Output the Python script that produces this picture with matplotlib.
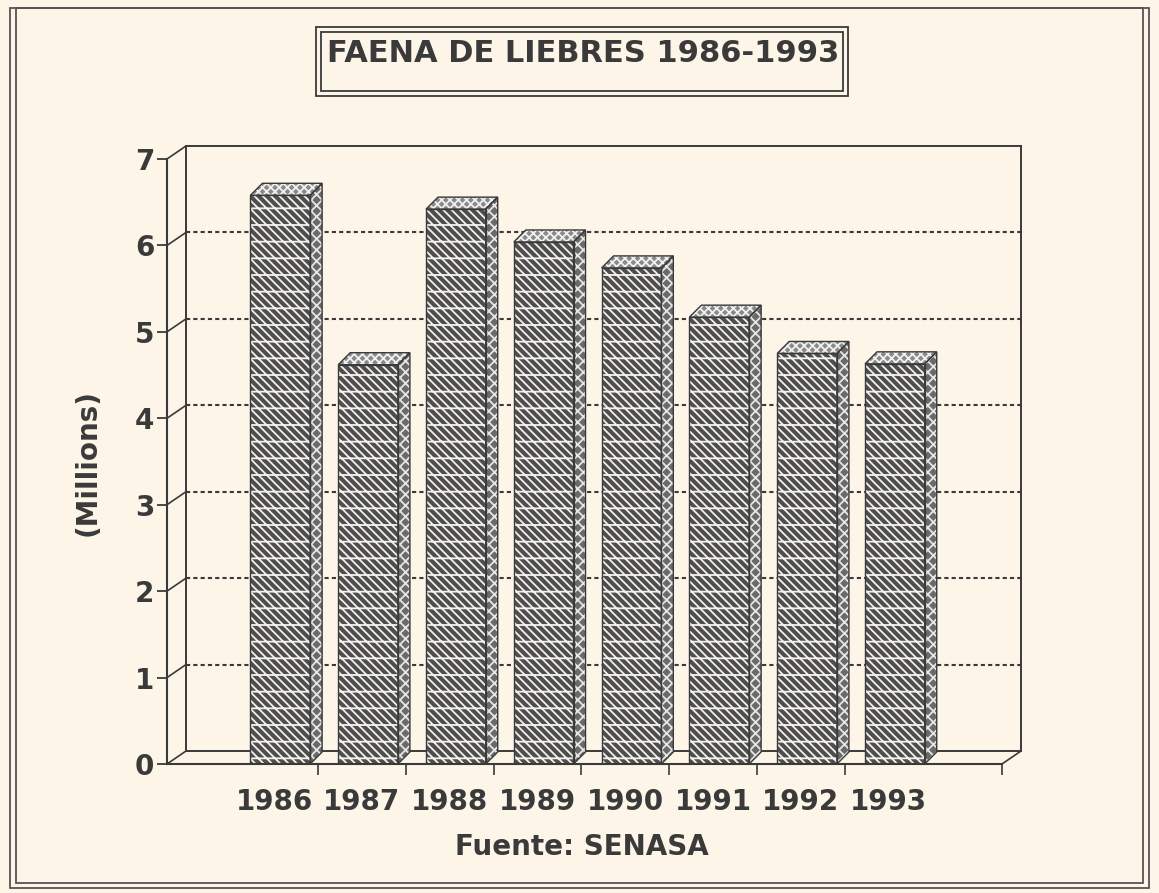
import matplotlib.pyplot as plt
from matplotlib.patches import Polygon, Rectangle
from matplotlib.lines import Line2D

years = ['1986', '1987', '1988', '1989', '1990', '1991', '1992', '1993']
faena = [6.58, 4.62, 6.42, 6.04, 5.74, 5.17, 4.75, 4.63]   # millions
yticks = [0, 1, 2, 3, 4, 5, 6, 7]

W, H = 1159, 893
bg = '#fcf5e8'
ink = '#3a3a3a'

plt.rcParams['font.family'] = 'DejaVu Sans'
plt.rcParams['hatch.linewidth'] = 1.3

fig = plt.figure(figsize=(W / 100, H / 100), dpi=100, facecolor=bg)


def fx(px):
    return px / W


def fy(py):
    return 1 - py / H


# front plane of the chart (pixels): x 167..1002, y 764 (=0) .. 159 (=7)
ax = fig.add_axes([fx(167), fy(764), (1002 - 167) / W, (764 - 159) / H])
ax.set_facecolor('none')
x0, x1 = -1.22, 8.29
ax.set_xlim(x0, x1)
ax.set_ylim(0, 7)

# depth offsets in data units (wall ~19x13 px, bars ~12x12 px)
sx = (1002 - 167) / (x1 - x0)
sy = (764 - 159) / 7
dxw, dyw = 19 / sx, 13 / sy
dxb, dyb = 12 / sx, 12 / sy

# back wall, floor and gridlines
lk = dict(color=ink, lw=1.4, clip_on=False, zorder=2)
ax.add_line(Line2D([x0 + dxw, x0 + dxw], [dyw, 7 + dyw], **lk))
ax.add_line(Line2D([x1 + dxw, x1 + dxw], [dyw, 7 + dyw], **lk))
ax.add_line(Line2D([x0 + dxw, x1 + dxw], [7 + dyw, 7 + dyw], **lk))
ax.add_line(Line2D([x0 + dxw, x1 + dxw], [dyw, dyw], **lk))
for k in yticks[1:-1]:
    ax.add_line(Line2D([x0 + dxw, x1 + dxw], [k + dyw, k + dyw], color=ink,
                       lw=1.5, ls=(0, (2, 1.5)), clip_on=False, zorder=1))
for k in yticks:
    ax.add_line(Line2D([x0, x0 + dxw], [k, k + dyw], color=ink, lw=1.2,
                       clip_on=False, zorder=2))
ax.add_line(Line2D([x1, x1 + dxw], [0, dyw], color=ink, lw=1.2, clip_on=False, zorder=2))

# bars with 3D top and side faces
bw = 0.68
off = 0.07
for i, v in enumerate(faena):
    xl = i + off - bw / 2
    xr = xl + bw
    ax.bar(i + off, v, width=bw, color='#4e4e4e', edgecolor='#f4f1ea',
           hatch='\\\\\\\\-', lw=0, zorder=4)
    ax.bar(i + off, v, width=bw, fill=False, edgecolor=ink, lw=1.0, zorder=5)
    side_pts = [(xr, 0), (xr + dxb, dyb), (xr + dxb, v + dyb), (xr, v)]
    ax.add_patch(Polygon(side_pts, closed=True, facecolor='#6a6a6a',
                         edgecolor='#e6e6e6', hatch='xxx', lw=0, zorder=4))
    ax.add_patch(Polygon(side_pts, closed=True, fill=False, edgecolor=ink,
                         lw=1.0, zorder=5))
    top_pts = [(xl, v), (xr, v), (xr + dxb, v + dyb), (xl + dxb, v + dyb)]
    ax.add_patch(Polygon(top_pts, closed=True, facecolor='#8a8a8a',
                         edgecolor='#f0f0f0', hatch='xxxx', lw=0, zorder=4))
    ax.add_patch(Polygon(top_pts, closed=True, fill=False, edgecolor=ink,
                         lw=1.0, zorder=5))

# axes, ticks and labels
for s in ['top', 'right']:
    ax.spines[s].set_visible(False)
for s in ['left', 'bottom']:
    ax.spines[s].set_color(ink)
    ax.spines[s].set_linewidth(1.5)
    ax.spines[s].set_zorder(6)

ax.set_yticks(yticks)
ax.set_yticklabels([str(t) for t in yticks], fontsize=20, fontweight='bold', color=ink)
ax.tick_params(axis='y', length=7, width=1.3, color=ink, pad=2)

ax.set_xticks([i + 0.5 for i in range(len(years) - 1)] + [x1])
ax.set_xticklabels([])
ax.tick_params(axis='x', which='major', length=8, width=1.2, color=ink)
ax.set_xticks(range(len(years)), minor=True)
ax.set_xticklabels(years, minor=True, fontsize=20, fontweight='bold', color=ink)
ax.tick_params(axis='x', which='minor', length=0, pad=17)

fig.text(fx(88), fy(463), '(Millions)', rotation=90, ha='center', va='center',
         fontsize=20, fontweight='bold', color=ink)
fig.text(fx(582), fy(847), 'Fuente: SENASA', ha='center', va='center',
         fontsize=20, fontweight='bold', color=ink)

# title with double box
fig.text(fx(583), fy(53), 'FAENA DE LIEBRES 1986-1993', ha='center', va='center',
         fontsize=22, fontweight='bold', color=ink)
for (l, t, r, b) in [(316, 27, 848, 96), (321, 32, 843, 91)]:
    fig.patches.append(Rectangle((fx(l), fy(b)), (r - l) / W, (b - t) / H,
                                 transform=fig.transFigure, fill=False,
                                 edgecolor=ink, lw=1.3))

# outer page frame
for (l, t, r, b) in [(10, 8, 1149, 888), (16, 8, 1143, 883)]:
    fig.patches.append(Rectangle((fx(l), fy(b)), (r - l) / W, (b - t) / H,
                                 transform=fig.transFigure, fill=False,
                                 edgecolor='#555555', lw=1.3))

fig.savefig('out.png', dpi=100, facecolor=bg)
